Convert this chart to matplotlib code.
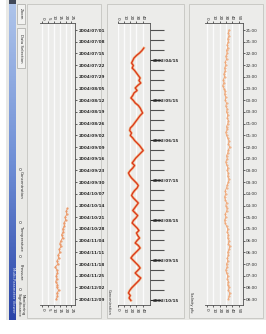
import matplotlib.pyplot as plt
from matplotlib.patches import Rectangle
import numpy as np

W, H = 266, 334

# ---- data ----
dates_a = ['2004/07/01', '2004/07/08', '2004/07/15', '2004/07/22', '2004/07/29', '2004/08/05',
           '2004/08/12', '2004/08/19', '2004/08/26', '2004/09/02', '2004/09/09', '2004/09/16',
           '2004/09/23', '2004/09/30', '2004/10/07', '2004/10/14', '2004/10/21', '2004/10/28',
           '2004/11/04', '2004/11/11', '2004/11/18', '2004/11/25', '2004/12/02', '2004/12/09']
dates_b = ['2002/04/15', '2002/05/15', '2002/06/15', '2002/07/15', '2002/08/15', '2002/09/15',
           '2002/10/15']
times_c = ['21:00', '21:30', '22:00', '22:30', '23:00', '23:30', '00:00', '00:30', '01:00',
           '01:30', '02:00', '02:30', '03:00', '03:30', '04:00', '04:30', '05:00', '05:30',
           '06:00', '06:30', '07:00', '07:30', '08:00', '08:30']

ticks_a = [0, 5, 10, 15, 20, 25]
ticks_b = [0, 10, 20, 30, 40]
ticks_c = [0, 10, 20, 30, 40, 50]

series_a = [21.5, 20.5, 21, 19.5, 20, 18.5, 19, 17.5, 18, 16.5, 17.5, 16, 15, 16, 14.5, 15,
            13.5, 14, 12.5, 13.5, 11, 12.5, 13, 12, 12.5, 11.5, 13, 12.5, 14, 12.5, 13, 12]
series_b = [42, 39, 35, 30, 26, 24, 22, 25, 23, 27, 30, 33, 36, 34, 37, 32, 28, 31, 26, 24,
            21, 25, 28, 33, 36, 38, 40, 36, 33, 30, 27, 24, 20, 19, 22, 20, 24, 27, 31, 35,
            38, 41, 37, 33, 29, 26, 23, 27, 24, 20, 17, 19, 22, 26, 30, 33, 31, 27, 24, 22,
            25, 29, 33, 30, 27, 24, 28, 32, 29, 25, 23, 27, 31, 34, 30, 32, 35, 31, 28, 33,
            36, 32, 28, 24, 21, 25, 29, 33, 36, 32, 28, 32, 37, 34, 30, 26, 22, 19, 17, 20,
            18, 21]
series_c = [35, 34, 35, 33, 34, 32, 33, 31, 32, 30, 31, 29, 30, 28, 29, 27,
            28, 26, 27, 25, 27, 29, 28, 30, 29, 31, 30, 32, 31, 33, 32, 34,
            33, 31, 32, 30, 31, 33, 35, 34, 36, 34, 33, 31, 32, 30, 31, 33,
            32, 34, 33, 35, 34, 32, 31, 29, 30, 28, 29, 31, 30, 32, 31, 29,
            30, 28, 29, 31, 33, 32, 34, 33, 35, 34, 36, 35, 33, 34, 32, 33,
            31, 32, 30, 31, 33, 32, 34, 33, 35, 34, 36, 35, 34]

t_a = 15.25 + 0.25 * np.arange(len(series_a))
t_b = 1.8 + 0.25 * np.arange(len(series_b))
t_c = 0.25 * np.arange(len(series_c))

BG = '#e9e9e6'
PANEL = '#ececea'
EDGE = '#c4c4c0'
TXT = '#282828'


def px_axes(fig, l, t, r, b):
    return fig.add_axes([l / W, (H - b) / H, (r - l) / W, (b - t) / H])


def px_rect(ax, l, t, r, b, **kw):
    ax.add_patch(Rectangle((l, t), r - l, b - t, **kw))


fig = plt.figure(figsize=(W / 100, H / 100), dpi=100, facecolor='white')

# background layer in pixel coordinates
bg = fig.add_axes([0, 0, 1, 1])
bg.set_xlim(0, W)
bg.set_ylim(H, 0)
bg.axis('off')
px_rect(bg, 6, 0, 266, 320, facecolor=BG, edgecolor='none')
# title bar (window rotated)
grad = np.linspace(0, 1, 200).reshape(-1, 1)
bg.imshow(grad, extent=(9, 16, 320, 3), cmap=plt.matplotlib.colors.LinearSegmentedColormap.from_list(
    'bar', ['#aec4ea', '#6f8fd6', '#2a44a8']), aspect='auto', zorder=2)
px_rect(bg, 9, 0, 16, 4, facecolor='#404858', edgecolor='none', zorder=3)
bg.text(12.5, 290, 'Multi-Parameter Viewer', rotation=270, ha='center', va='center',
        fontsize=2.8, color='#dfe6f6', zorder=4)
# panels
for l, r in [(27, 101), (107, 184), (189, 263)]:
    px_rect(bg, l, 4, r, 318, facecolor=PANEL, edgecolor=EDGE, lw=0.6)
# side buttons / radio list of first panel
px_rect(bg, 17, 4, 25, 24, facecolor='#f2f2f0', edgecolor='#a8a8a4', lw=0.5)
bg.text(21, 14, 'Zoom', rotation=270, ha='center', va='center', fontsize=2.8, color=TXT)
px_rect(bg, 17, 28, 25, 68, facecolor='#f2f2f0', edgecolor='#a8a8a4', lw=0.5)
bg.text(21, 48, 'Data Selection', rotation=270, ha='center', va='center', fontsize=2.8, color=TXT)
for y, lab in [(185, 'Concentration'), (238, 'Temperature'), (272, 'Pressure'),
               (305, 'Monitoring\nSignificance')]:
    bg.plot(20, y - 16, marker='o', ms=1.6, mfc='white', mec='#606060', mew=0.4)
    bg.text(21, y, lab, rotation=270, ha='center', va='center', fontsize=2.8, color=TXT,
            linespacing=1.0)
bg.text(109, 302, 'Concentration', rotation=270, ha='center', va='center', fontsize=2.6, color=TXT)
bg.text(191, 302, 'Salinity pfu', rotation=270, ha='center', va='center', fontsize=2.6, color=TXT)


def style_axes(ax, xlim, xticks, ylim, yticks, ylabels, long_ticks=False, weight='bold'):
    ax.set_facecolor('none')
    ax.set_xlim(*xlim)
    ax.set_ylim(*ylim)
    ax.set_xticks(xticks)
    ax.set_xticklabels([str(v) for v in xticks])
    ax.set_yticks(yticks)
    ax.set_yticklabels(ylabels, fontweight=weight)
    ax.spines['left'].set_visible(False)
    for s in ['top', 'bottom', 'right']:
        ax.spines[s].set_color('#505050')
        ax.spines[s].set_linewidth(0.6)
    ax.tick_params(axis='x', top=True, labeltop=True, bottom=True, labelbottom=True,
                   labelrotation=270, labelsize=3, length=1.2, width=0.5, pad=1,
                   colors=TXT)
    ax.tick_params(axis='y', left=False, labelleft=False, right=True, labelright=True,
                   labelsize=3, length=8 if long_ticks else 1.5, width=0.8 if long_ticks else 0.5,
                   pad=-6 if long_ticks else 0.8, colors=TXT)
    ax.grid(axis='x', color='#fbfbfb', lw=1.0)
    ax.set_axisbelow(True)


ax1 = px_axes(fig, 40, 23, 75, 305)
style_axes(ax1, (-2, 28), ticks_a, (23.5, -0.6), range(len(dates_a)), dates_a)
ax1.plot(series_a, t_a, color='#ec9a6a', lw=0.7, marker='.', ms=1.2)

ax2 = px_axes(fig, 118, 23, 150, 305)
labelled_b = [3 + 4 * i for i in range(len(dates_b))]
style_axes(ax2, (0, 52), ticks_b, (27.5, -0.7), labelled_b, dates_b, long_ticks=True)
ax2.set_yticks([k for k in range(28) if k not in labelled_b], minor=True)
ax2.tick_params(axis='y', which='minor', left=False, right=True, length=10, width=0.8,
                colors='#505050')
ax2.plot(series_b, t_b, color='#f2a060', lw=1.8, alpha=0.8)
ax2.plot(series_b, t_b, color='#d8301a', lw=0.8)

ax3 = px_axes(fig, 205, 23, 243, 305)
style_axes(ax3, (-3, 57), ticks_c, (23.5, -0.6), range(len(times_c)), times_c, weight='normal')
ax3.plot(series_c, t_c, color='#f0a878', lw=0.7, marker='.', ms=1.0)

fig.savefig('out.png', dpi=100, facecolor='white')
